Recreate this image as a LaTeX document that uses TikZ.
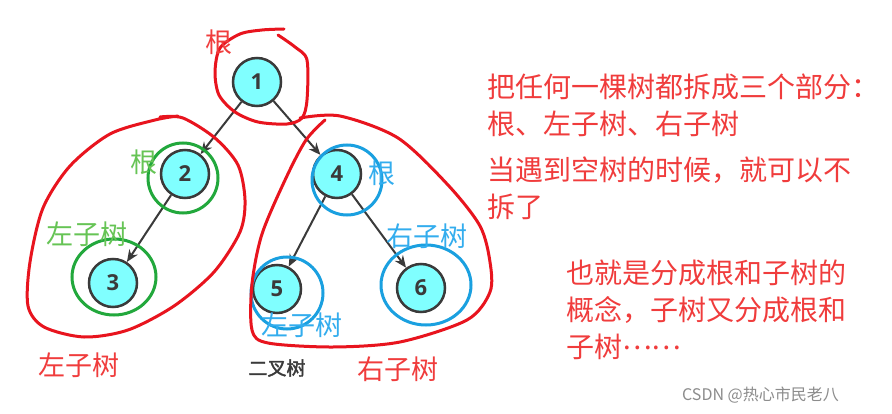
\documentclass[tikz,border=0pt]{standalone}
\usepackage{fontspec}
\newfontfamily\cjk{Noto Sans CJK SC}
\newfontfamily\cjkb[FakeBold=2]{Noto Sans CJK SC}
\newfontfamily\numfont{Open Sans}
\usetikzlibrary{arrows.meta}
\definecolor{ciano}{HTML}{80FFFF}
\definecolor{bordo}{HTML}{3A3A3A}
\definecolor{rosso}{HTML}{E8141E}
\definecolor{testorosso}{HTML}{F03C3C}
\definecolor{verde}{HTML}{22A83C}
\definecolor{verdechiaro}{HTML}{66C455}
\definecolor{blu}{HTML}{1AA0E0}
\definecolor{bluchiaro}{HTML}{33ADEE}
\tikzset{
  nodo/.style={circle, draw=bordo, fill=ciano, line width=2.5pt, minimum size=48pt, inner sep=0pt, font=\numfont\bfseries\fontsize{22}{22}\selectfont, text=bordo},
  arco/.style={-{Stealth[length=12pt,width=10pt]}, draw=bordo, line width=2pt},
  anello/.style={line width=3pt},
  traccia/.style={draw=rosso, line width=3pt, line join=round, line cap=round},
  etichetta/.style={font=\cjk\fontsize{27}{27}\selectfont, inner sep=0pt},
  nota/.style={font=\cjk\fontsize{28}{37}\selectfont, text=testorosso, align=left, inner sep=0pt, anchor=west}
}
\begin{document}
\begin{tikzpicture}[x=1pt, y=-1pt]
    \useasboundingbox[fill=white] (0,0) rectangle (892,414);

    %nodi
    \node[nodo] (n1) at (257,82) {1};
    \node[nodo] (n2) at (185,174) {2};
    \node[nodo] (n3) at (113,283) {3};
    \node[nodo] (n4) at (337,174) {4};
    \node[nodo] (n5) at (277,289) {5};
    \node[nodo] (n6) at (421,288) {6};

    %archi
    \draw[arco] (n1) -- (n2);
    \draw[arco] (n1) -- (n4);
    \draw[arco] (n2) -- (n3);
    \draw[arco] (n4) -- (n5);
    \draw[arco] (n4) -- (n6);

    %cerchi
    \draw[anello, verde] (183,178) circle (35);
    \draw[anello, verde] (114,277) ellipse (42 and 38);
    \draw[anello, blu] (347,180) circle (35);
    \draw[anello, blu] (287,293) ellipse (36 and 36);
    \draw[anello, blu] (426,285) ellipse (45 and 40);

    %tracce a mano
    \draw[traccia] plot[smooth] coordinates {(284,29) (262,30) (240,34) (220,48) (215,72) (219,95) (235,112) (258,122) (287,124) (302,118) (307,100) (307,60) (295,47) (278,35)};
    \draw[traccia] plot[smooth] coordinates {(160,117) (183,118) (215,138) (238,165) (245,200) (240,232) (214,272) (174,306) (128,330) (84,337) (44,327) (28,306) (30,262) (43,208) (70,166) (110,134) (155,120) (178,116)};
    \draw[traccia] plot[smooth] coordinates {(300,118) (340,116) (398,138) (448,185) (480,226) (490,262) (490,292) (467,320) (400,342) (333,347) (268,343) (252,330) (252,284) (262,234) (286,178) (306,140) (325,120)};

    %etichette
    \node[etichetta, text=testorosso] (r1) at (219,42) {根};
    \node[etichetta, text=verdechiaro] (r2) at (144,162) {根};
    \node[etichetta, text=verdechiaro] (s3) at (87,234) {左子树};
    \node[etichetta, text=bluchiaro] (r4) at (382,173) {根};
    \node[etichetta, text=bluchiaro] (d6) at (427,236) {右子树};
    \node[etichetta, text=bluchiaro] (s5) at (302,325) {左子树};
    \node[etichetta, text=testorosso] (sx) at (79,365) {左子树};
    \node[etichetta, text=testorosso] (dx) at (398,369) {右子树};
    \node[font=\cjkb\fontsize{19}{19}\selectfont, text=bordo, inner sep=0pt] (bt) at (277,368) {二叉树};

    %note
    \node[nota] (p1) at (487,105) {把任何一棵树都拆成三个部分：\\根、左子树、右子树};
    \node[nota] (p2) at (487,188) {当遇到空树的时候，就可以不\\拆了};
    \node[nota] (p3) at (566,310) {也就是分成根和子树的\\概念，子树又分成根和\\子树\raisebox{0.3em}{……}};

    %firma
    \node[font=\cjk\fontsize{16}{16}\selectfont, text=black!45, inner sep=0pt, anchor=west] (wm) at (682,395) {CSDN @热心市民老八};
\end{tikzpicture}
\end{document}
